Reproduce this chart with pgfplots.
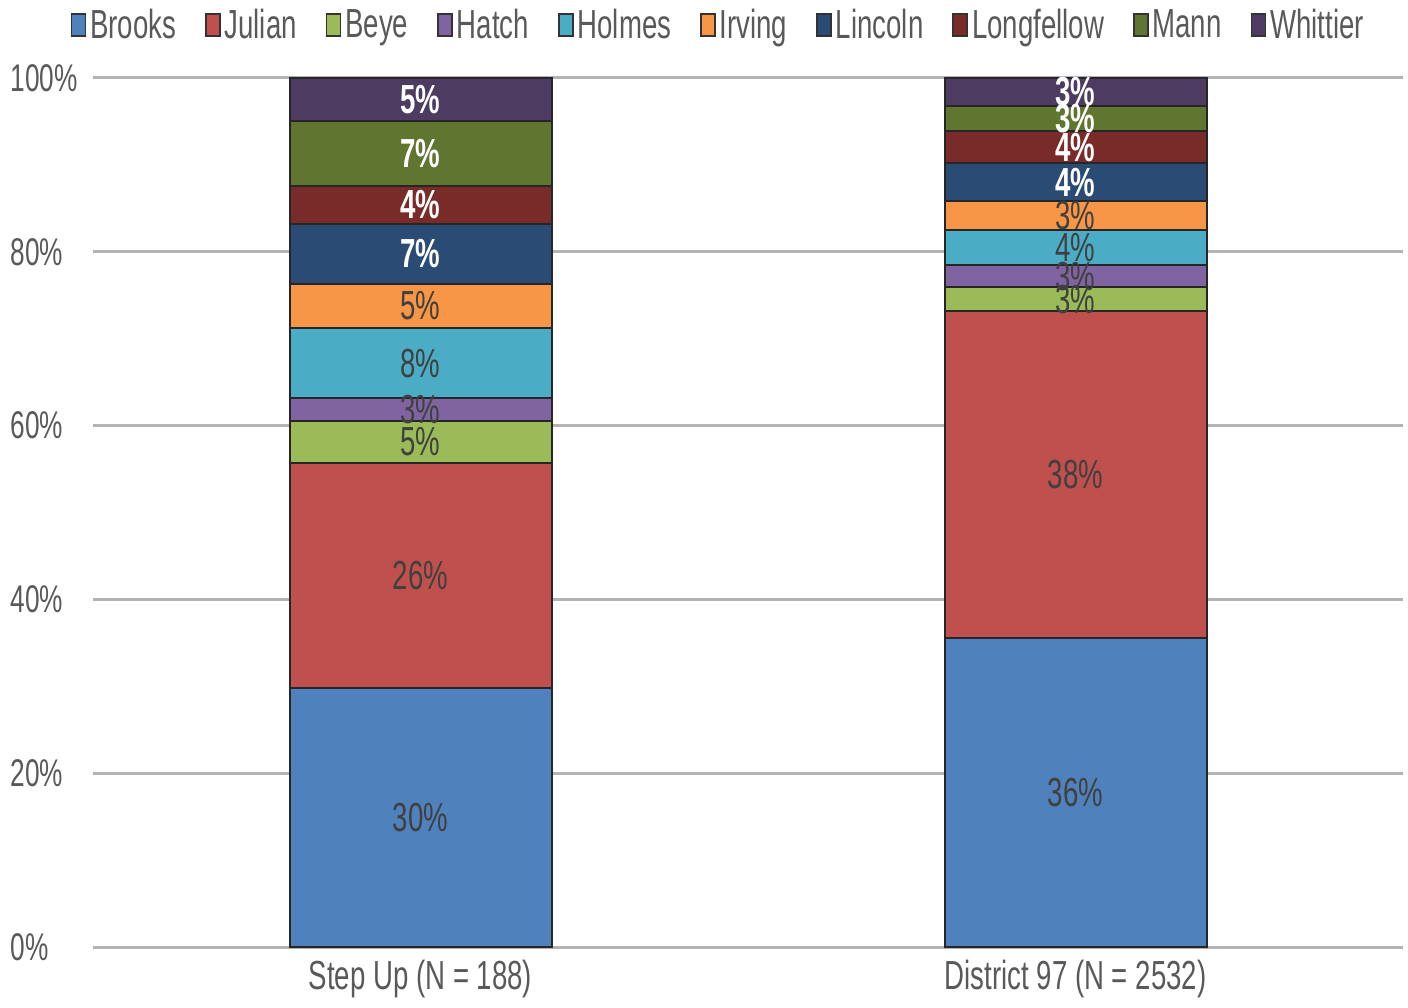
\documentclass[border=0pt]{standalone}
\usepackage{pgfplots}
\pgfplotsset{compat=1.18}
\usepackage{fontspec}
\setmainfont{Liberation Sans}[FakeStretch=0.68]
\definecolor{cBrooks}{HTML}{4F81BD}
\definecolor{cJulian}{HTML}{C0504D}
\definecolor{cBeye}{HTML}{9BBB59}
\definecolor{cHatch}{HTML}{8064A2}
\definecolor{cHolmes}{HTML}{4BACC6}
\definecolor{cIrving}{HTML}{F79646}
\definecolor{cLincoln}{HTML}{2A4C74}
\definecolor{cLongfellow}{HTML}{782B29}
\definecolor{cMann}{HTML}{5F7530}
\definecolor{cWhittier}{HTML}{4D3B62}
\definecolor{txt}{HTML}{595959}
\definecolor{lbl}{HTML}{404040}
\definecolor{gridc}{HTML}{B3B3B3}
\newcommand{\fs}{\fontsize{20.3}{24}\selectfont}
\begin{document}
\begin{tikzpicture}
\pgfplotsset{
  common/.style={scale only axis, width=655pt, height=434.5pt,
    xmin=-0.5, xmax=1.5, ymin=0, ymax=100},
}
\begin{axis}[common,
  ybar stacked, bar width=131pt,
  axis line style={draw=none},
  major tick style={draw=none},
  ytick={0,20,40,60,80,100},
  yticklabels={0\%,20\%,40\%,60\%,80\%,100\%},
  xtick={0,1},
  xticklabels={{Step Up (N = 188)},{District 97 (N = 2532)}},
  ymajorgrids, grid style={draw=gridc, line width=1.5pt},
  yticklabel style={anchor=west, xshift=-41.5pt, font=\fontsize{19.3}{22}\selectfont, text=txt, inner sep=0pt},
  xticklabel style={font=\fs, text=txt, yshift=-3pt},
  legend columns=-1,
  legend style={draw=none, fill=none, at={(0.478,1.061)}, anchor=center,
    font=\fs, text=txt, /tikz/every even column/.append style={column sep=12.5pt}},
  legend image code/.code={\draw[#1,draw=black!80,line width=0.8pt] (0pt,-5.5pt) rectangle (7pt,5.5pt);},
  every axis plot/.append style={draw=black!85, line width=1pt},
]
\addplot[fill=cBrooks] coordinates {(0,29.8) (1,35.6)};
\addplot[fill=cJulian] coordinates {(0,25.9) (1,37.6)};
\addplot[fill=cBeye] coordinates {(0,4.8) (1,2.7)};
\addplot[fill=cHatch] coordinates {(0,2.7) (1,2.6)};
\addplot[fill=cHolmes] coordinates {(0,8.0) (1,4.0)};
\addplot[fill=cIrving] coordinates {(0,5.1) (1,3.3)};
\addplot[fill=cLincoln] coordinates {(0,6.9) (1,4.4)};
\addplot[fill=cLongfellow] coordinates {(0,4.4) (1,3.7)};
\addplot[fill=cMann] coordinates {(0,7.4) (1,2.9)};
\addplot[fill=cWhittier] coordinates {(0,5.0) (1,3.2)};
\legend{Brooks,Julian,Beye,Hatch,Holmes,Irving,Lincoln,Longfellow,Mann,Whittier}
\coordinate (bbll) at (axis description cs:-0.0710,-0.06904);
\coordinate (bbur) at (axis description cs:1.00382,1.08976);
\end{axis}
\begin{axis}[common, hide axis]
\addplot[only marks, mark=none, point meta=explicit symbolic,
  nodes near coords={\pgfplotspointmeta\%},
  every node near coord/.append style={anchor=center, font=\fs, text=lbl}]
  coordinates {(0,14.9)[30] (0,42.75)[26] (0,58.1)[5] (0,61.85)[3] (0,67.2)[8] (0,73.75)[5]
               (1,17.8)[36] (1,54.4)[38] (1,74.55)[3] (1,77.2)[3] (1,80.5)[4] (1,84.15)[3]};
\addplot[only marks, mark=none, point meta=explicit symbolic,
  nodes near coords={\pgfplotspointmeta\%},
  every node near coord/.append style={anchor=center, font=\fs\bfseries, text=white}]
  coordinates {(0,79.75)[7] (0,85.4)[4] (0,91.3)[7] (0,97.5)[5]
               (1,88.0)[4] (1,92.05)[4] (1,95.35)[3] (1,98.4)[3]};
\end{axis}
\pgfresetboundingbox
\path[use as bounding box] (bbll) rectangle (bbur);
\end{tikzpicture}
\end{document}
